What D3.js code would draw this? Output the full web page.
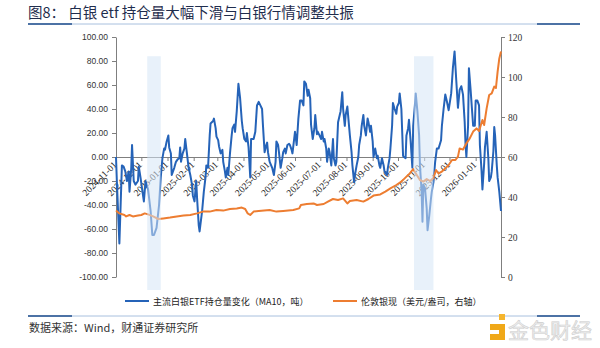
<!DOCTYPE html>
<html>
<head>
<meta charset="utf-8">
<script src="https://cdn.jsdelivr.net/npm/d3@7"></script>
<style>
  body { margin: 0; background: #fff; }
  svg { display: block; }
</style>
</head>
<body>
<svg id="chart" width="600" height="348"></svg>
<script>
// ---- Data ----
const etfDates = [
  "2024-11-01","2024-11-02","2024-11-05","2024-11-08","2024-11-10","2024-11-12","2024-11-14","2024-11-16","2024-11-17","2024-11-19",
  "2024-11-20","2024-11-22","2024-11-24","2024-11-27","2024-11-28","2024-11-30","2024-12-03","2024-12-04","2024-12-06","2024-12-09",
  "2024-12-12","2024-12-14","2024-12-16","2024-12-19","2024-12-22","2024-12-24","2024-12-26","2024-12-28","2024-12-29","2024-12-31",
  "2025-01-02","2025-01-03","2025-01-05","2025-01-06","2025-01-09","2025-01-11","2025-01-13","2025-01-15","2025-01-16","2025-01-17",
  "2025-01-19","2025-01-21","2025-01-22","2025-01-24","2025-01-26","2025-01-28","2025-01-30","2025-01-31","2025-02-02","2025-02-04",
  "2025-02-05","2025-02-07","2025-02-08","2025-02-11","2025-02-13","2025-02-15","2025-02-16","2025-02-18","2025-02-20","2025-02-21",
  "2025-02-24","2025-02-25","2025-02-27","2025-02-28","2025-03-02","2025-03-03","2025-03-05","2025-03-07","2025-03-08","2025-03-10",
  "2025-03-11","2025-03-13","2025-03-14","2025-03-16","2025-03-18","2025-03-19","2025-03-21","2025-03-22","2025-03-24","2025-03-26",
  "2025-03-28","2025-03-30","2025-03-31","2025-04-02","2025-04-04","2025-04-05","2025-04-07","2025-04-09","2025-04-10","2025-04-13",
  "2025-04-15","2025-04-17","2025-04-19","2025-04-21","2025-04-23","2025-04-24","2025-04-26","2025-04-28","2025-04-29","2025-04-30",
  "2025-05-02","2025-05-05","2025-05-07","2025-05-09","2025-05-10","2025-05-12","2025-05-13","2025-05-15","2025-05-17","2025-05-18",
  "2025-05-20","2025-05-21","2025-05-23","2025-05-25","2025-05-26","2025-05-28","2025-05-29","2025-05-31","2025-06-01","2025-06-03",
  "2025-06-05","2025-06-07","2025-06-09","2025-06-11","2025-06-12","2025-06-14","2025-06-16","2025-06-17","2025-06-19","2025-06-20",
  "2025-06-22","2025-06-24","2025-06-25","2025-06-27","2025-06-28","2025-06-30","2025-07-02","2025-07-03","2025-07-05","2025-07-06",
  "2025-07-08","2025-07-09","2025-07-11","2025-07-12","2025-07-14","2025-07-16","2025-07-17","2025-07-19","2025-07-20","2025-07-22",
  "2025-07-24","2025-07-25","2025-07-27","2025-07-28","2025-07-30","2025-07-31","2025-08-02","2025-08-04","2025-08-05","2025-08-07",
  "2025-08-08","2025-08-10","2025-08-11","2025-08-13","2025-08-15","2025-08-16","2025-08-18","2025-08-19","2025-08-21","2025-08-22",
  "2025-08-24","2025-08-26","2025-08-27","2025-08-29","2025-08-30","2025-09-01","2025-09-02","2025-09-04","2025-09-06","2025-09-07",
  "2025-09-09","2025-09-10","2025-09-12","2025-09-14","2025-09-15","2025-09-18","2025-09-19","2025-09-21","2025-09-22","2025-09-24",
  "2025-09-25","2025-09-27","2025-09-29","2025-09-30","2025-10-02","2025-10-03","2025-10-05","2025-10-07","2025-10-08","2025-10-10",
  "2025-10-11","2025-10-13","2025-10-14","2025-10-16","2025-10-18","2025-10-19","2025-10-21","2025-10-22","2025-10-24","2025-10-26",
  "2025-10-27","2025-10-29","2025-10-30","2025-10-31","2025-11-02","2025-11-04","2025-11-05","2025-11-07","2025-11-09","2025-11-10",
  "2025-11-12","2025-11-14","2025-11-16","2025-11-18","2025-11-21","2025-11-22","2025-11-24","2025-11-26","2025-11-28","2025-11-30",
  "2025-12-03","2025-12-05","2025-12-07","2025-12-09","2025-12-11","2025-12-13","2025-12-15","2025-12-17","2025-12-19","2025-12-20",
  "2025-12-21","2025-12-23","2025-12-24","2025-12-26","2025-12-28","2025-12-29","2025-12-31","2026-01-01","2026-01-03","2026-01-05",
  "2026-01-06","2026-01-08","2026-01-09","2026-01-11","2026-01-12","2026-01-14","2026-01-16","2026-01-17","2026-01-19","2026-01-20",
  "2026-01-22","2026-01-23","2026-01-24","2026-01-26","2026-01-27","2026-01-29","2026-01-31"
];
const etfChange = [
  0,-20,-72,-7,-8,-12,-20,-12,-29,-10,
  10,-20,-23,-20,-8,-17,-32,-37,-20,-27,
  -45,-65,-65,-59,-40,-17,-1,7,6,13,
  18,8,3,-15,-9,-4,-2,-1,8,-4,
  3,7,15,3,-9,-15,-23,-32,-37,-20,
  -34,-57,-62,-45,-29,-17,-7,-9,18,28,
  30,32,24,17,14,9,3,6,-4,-12,
  -17,-9,-15,3,18,24,27,21,38,61,
  49,30,24,15,13,20,8,-17,15,15,
  21,43,46,43,40,27,4,10,12,4,
  -4,-9,-15,-4,13,10,4,-9,-1,4,
  7,3,10,11,10,6,3,15,21,10,
  32,47,47,43,63,61,51,56,49,27,
  15,24,35,19,21,18,15,21,13,15,
  7,-4,7,4,-7,15,-1,-7,-4,29,
  35,38,54,40,26,35,42,26,18,4,
  -7,-21,-15,-7,0,10,18,26,35,26,
  18,32,29,21,26,13,0,7,-1,1,
  -7,-9,-1,-7,-12,-15,-9,-1,7,26,
  45,40,36,42,45,53,40,1,0,-1,
  18,24,31,13,-9,26,43,53,38,18,
  -7,-29,-54,-23,-26,-43,-61,-49,-35,-29,
  -21,-4,7,7,14,26,40,52,46,39,
  53,74,88,64,41,56,59,52,29,10,
  0,26,74,56,36,26,26,47,47,43,
  10,-12,-27,-6,8,21,-1,-20,-17,-12,
  5,25,18,-7,-17,-29,-45
];

const silverDates = [
  "2024-11-01","2024-11-05","2024-11-11","2024-11-13","2024-11-17","2024-11-21","2024-11-27","2024-12-01","2024-12-05","2024-12-09",
  "2024-12-15","2024-12-21","2024-12-27","2025-01-04","2025-01-12","2025-01-20","2025-01-28","2025-02-05","2025-02-12","2025-02-20",
  "2025-02-28","2025-03-08","2025-03-16","2025-03-24","2025-03-30","2025-04-03","2025-04-06","2025-04-09","2025-04-13","2025-04-19",
  "2025-05-02","2025-05-10","2025-05-18","2025-05-30","2025-06-06","2025-06-08","2025-06-15","2025-06-23","2025-06-27","2025-07-05",
  "2025-07-10","2025-07-16","2025-07-22","2025-07-28","2025-08-02","2025-08-05","2025-08-13","2025-08-21","2025-08-27","2025-09-02",
  "2025-09-10","2025-09-16","2025-09-22","2025-09-29","2025-10-05","2025-10-11","2025-10-15","2025-10-19","2025-10-22","2025-10-27",
  "2025-10-31","2025-11-04","2025-11-08","2025-11-12","2025-11-15","2025-11-18","2025-11-22","2025-11-26","2025-11-30","2025-12-04",
  "2025-12-08","2025-12-11","2025-12-13","2025-12-17","2025-12-21","2025-12-25","2025-12-29","2026-01-02","2026-01-05","2026-01-09",
  "2026-01-11","2026-01-14","2026-01-17","2026-01-20","2026-01-23","2026-01-25","2026-01-27","2026-01-29","2026-01-31"
];
const silverPrice = [
  33.2,31.8,31.0,30.3,31.0,30.3,30.7,31.0,31.8,31.3,
  30.3,29.0,29.3,29.7,30.3,30.7,31.0,31.8,32.7,32.7,
  33.5,33.2,34.0,34.3,34.7,34.0,31.8,31.0,32.7,33.0,
  33.5,32.7,33.0,33.5,34.3,36.0,36.5,36.8,36.0,36.5,
  37.7,39.0,38.5,39.3,36.8,38.0,38.5,37.7,39.0,40.7,
  41.3,42.7,44.3,46.0,47.7,50.2,51.8,54.0,51.8,48.5,
  47.7,49.0,48.0,49.5,53.5,51.8,52.7,54.3,56.0,58.5,
  58.5,60.2,64.3,63.7,66.8,69.3,72.7,74.3,73.0,78.5,
  76.0,84.3,91.0,91.8,95.2,94.5,102.7,109.3,112.7
];

// Highlighted adjustment periods
const bandStart = ["2024-12-08", "2025-10-20"];
const bandEnd   = ["2024-12-24", "2025-11-12"];

const leftTicks  = [-100, -80, -60, -40, -20, 0, 20, 40, 60, 80, 100];
const rightTicks = [0, 20, 40, 60, 80, 100, 120];
const monthTicks = ["2024-11-01","2024-12-01","2025-01-01","2025-02-01","2025-03-01","2025-04-01","2025-05-01",
  "2025-06-01","2025-07-01","2025-08-01","2025-09-01","2025-10-01","2025-11-01","2025-12-01","2026-01-01"];

const title = "图8：  白银 etf 持仓量大幅下滑与白银行情调整共振";
const seriesNames = ["主流白银ETF持仓量变化（MA10，吨）", "伦敦银现（美元/盎司，右轴）"];
const sourceText = "数据来源：Wind，财通证券研究所";

// ---- Drawing ----
const parse = d3.timeParse("%Y-%m-%d");
const fmtDate = d3.timeFormat("%Y-%m-%d");
const CJK = "'Noto Sans CJK SC', 'Noto Sans', sans-serif";
const SERIF = "'Liberation Serif', 'DejaVu Serif', serif";
const SANS = "'Liberation Sans', Arial, sans-serif";
const BLUE = "#2563b8", ORANGE = "#ed7d31";

const svg = d3.select("#chart");
const plot = { left: 116, right: 501, top: 37, bottom: 277 };

const x = d3.scaleTime()
  .domain([parse("2024-11-01"), parse("2026-01-31")])
  .range([plot.left, plot.right]);
const yL = d3.scaleLinear().domain([-100, 100]).range([plot.bottom, plot.top]);
const yR = d3.scaleLinear().domain([0, 120]).range([plot.bottom, plot.top]);

// Title and rules
svg.append("text").attr("x", 28).attr("y", 18)
  .style("font-family", CJK).style("font-size", "14.5px").style("fill", "#1f2d4d")
  .text(title);

function rule(y) {
  svg.append("line").attr("x1", 28).attr("x2", 580).attr("y1", y).attr("y2", y)
    .attr("stroke", "#a8c0de").attr("stroke-width", 1);
  [[28, 72], [537, 580]].forEach(([a, b]) =>
    svg.append("line").attr("x1", a).attr("x2", b).attr("y1", y).attr("y2", y)
      .attr("stroke", "#1f4e8c").attr("stroke-width", 1.6));
}
rule(24);
rule(316);

// Left axis
const gL = svg.append("g").attr("transform", `translate(${plot.left},0)`)
  .call(d3.axisLeft(yL).tickValues(leftTicks).tickSize(4).tickSizeOuter(0)
    .tickFormat(d => d.toFixed(2)));
gL.select(".domain").attr("stroke", "#7f7f7f");
gL.selectAll(".tick line").attr("stroke", "#7f7f7f");
gL.selectAll(".tick text").attr("x", -8)
  .style("font-family", SANS).style("font-size", "8.5px").style("fill", "#333");

// Right axis
const gR = svg.append("g").attr("transform", `translate(${plot.right},0)`)
  .call(d3.axisRight(yR).tickValues(rightTicks).tickSize(4).tickSizeOuter(0));
gR.select(".domain").attr("stroke", "#7f7f7f");
gR.selectAll(".tick line").attr("stroke", "#7f7f7f");
gR.selectAll(".tick text").attr("x", 7)
  .style("font-family", SERIF).style("font-size", "9.5px").style("fill", "#333");

// Date axis on the zero line
const gX = svg.append("g").attr("transform", `translate(0,${yL(0)})`)
  .call(d3.axisBottom(x).tickValues(monthTicks.map(parse)).tickSize(4).tickSizeOuter(0)
    .tickFormat(fmtDate));
gX.select(".domain").attr("stroke", "#7f7f7f").attr("stroke-width", 1.2);
gX.selectAll(".tick line").attr("stroke", "#7f7f7f");
gX.selectAll(".tick text")
  .attr("x", 0).attr("y", 0).attr("dy", "0.35em")
  .attr("transform", "translate(-1.5,6) rotate(-45)")
  .style("text-anchor", "end")
  .style("font-family", SERIF).style("font-size", "9.5px").style("fill", "#222");

// Series lines
const etfLine = d3.line().x((d, i) => x(parse(etfDates[i]))).y(d => yL(d));
const silverLine = d3.line().x((d, i) => x(parse(silverDates[i]))).y(d => yR(d));

svg.append("path").datum(etfChange).attr("d", etfLine)
  .attr("fill", "none").attr("stroke", BLUE).attr("stroke-width", 2)
  .attr("stroke-linejoin", "round");
svg.append("path").datum(silverPrice).attr("d", silverLine)
  .attr("fill", "none").attr("stroke", ORANGE).attr("stroke-width", 2)
  .attr("stroke-linejoin", "round");

// Shaded periods (drawn over the lines, translucent)
svg.selectAll("rect.band").data(bandStart).join("rect").attr("class", "band")
  .attr("x", d => x(parse(d)))
  .attr("width", (d, i) => x(parse(bandEnd[i])) - x(parse(d)))
  .attr("y", yL(84))
  .attr("height", plot.bottom + 13 - yL(84))
  .attr("fill", "#d6e5f5").attr("fill-opacity", 0.55);

// Legend
const legend = [
  { name: seriesNames[0], color: BLUE, x: 125 },
  { name: seriesNames[1], color: ORANGE, x: 333 }
];
legend.forEach(l => {
  svg.append("line").attr("x1", l.x).attr("x2", l.x + 24).attr("y1", 301).attr("y2", 301)
    .attr("stroke", l.color).attr("stroke-width", 2);
  svg.append("text").attr("x", l.x + 28).attr("y", 304.5)
    .style("font-family", CJK).style("font-size", "9px").style("fill", "#222")
    .text(l.name);
});

// Source note
svg.append("text").attr("x", 29).attr("y", 332)
  .style("font-family", CJK).style("font-size", "11px").style("fill", "#333")
  .text(sourceText);

// Brand mark, bottom right
const mark = svg.append("g").attr("transform", "translate(490,314)");
mark.append("rect").attr("x", 9).attr("y", 0).attr("width", 6).attr("height", 6).attr("fill", "#f5b52e");
mark.append("path").attr("d", "M0,10 H15 V26 H0 V20 H9 V16 H0 Z").attr("fill", "#f0a818");
svg.append("text").attr("x", 508).attr("y", 338)
  .style("font-family", CJK).style("font-size", "21px").style("fill", "#ededed")
  .style("stroke", "#cfcfcf").style("stroke-width", 0.6)
  .text("金色财经");
</script>
</body>
</html>
